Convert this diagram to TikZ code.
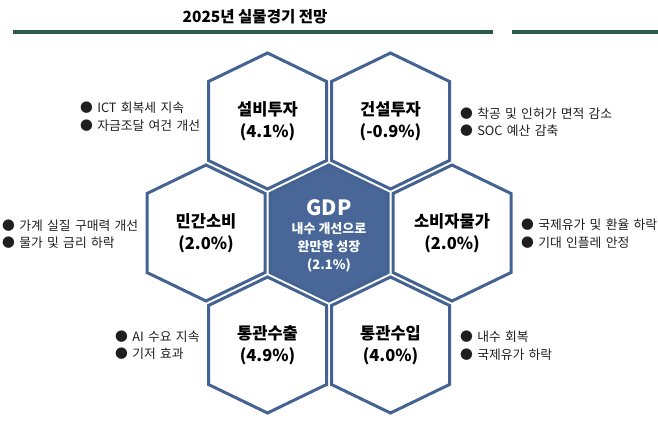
\documentclass[tikz,border=0pt]{standalone}
\usepackage{fontspec}
\setmainfont{Noto Sans CJK KR}
\newfontfamily\notefamily{Noto Sans CJK KR}[WordSpace=1.5]
\usetikzlibrary{positioning}

\definecolor{hexblue}{RGB}{68,99,147}
\definecolor{hexfill}{RGB}{72,103,152}
\definecolor{rulegreen}{RGB}{44,90,70}

\begin{document}
\begin{tikzpicture}[x=1pt, y=-1pt,
        hexcell/.style={draw=hexblue, line width=3pt, line join=miter, fill=white},
        hexcore/.style={hexcell, fill=hexfill},
        hexlabel/.style={font=\fontsize{16.5}{22}\selectfont\bfseries, align=center, inner sep=0pt},
        corehead/.style={font=\fontsize{21}{24}\selectfont\bfseries, text=white, inner sep=0pt},
        coretext/.style={font=\fontsize{13}{18}\selectfont\bfseries, text=white, align=center, inner sep=0pt},
        note/.style={font=\notefamily\fontsize{12.8}{17.5}\selectfont, text=black!88, align=left, anchor=west, inner sep=0pt},
        headline/.style={font=\fontsize{15.5}{18}\selectfont\bfseries, inner sep=0pt},
        rule/.style={draw=rulegreen, line width=3.5pt}
    ]
    \useasboundingbox (0,0) rectangle (658,442);

    % ROZMERY
    \def\hw{59}
    \def\hv{68}
    \def\hs{39.5}

    % NADPIS
    \node[headline] (title) at (255,17) {2025년 실물경기 전망};
    \coordinate (ruleA) at (13,32);
    \coordinate (ruleB) at (493,32);
    \coordinate (ruleC) at (512,32);
    \coordinate (ruleD) at (658,32);
    \draw[rule] (ruleA) -- (ruleB);
    \draw[rule] (ruleC) -- (ruleD);

    % SESTIUHELNIKY
    \foreach \name/\cx/\cy/\sty in {capex/267.5/121/hexcell, constr/390.5/121/hexcell,
                                    consum/206/233/hexcell, gdp/329/233/hexcore, prices/452/233/hexcell,
                                    exports/267.5/345/hexcell, imports/390.5/345/hexcell} {
        \coordinate (\name) at (\cx,\cy);
        \draw[\sty] ([shift={(0,-\hv)}]\name) -- ([shift={(\hw,-\hs)}]\name) -- ([shift={(\hw,\hs)}]\name)
            -- ([shift={(0,\hv)}]\name) -- ([shift={(-\hw,\hs)}]\name) -- ([shift={(-\hw,-\hs)}]\name) -- cycle;
    }

    % POPISKY
    \node[hexlabel] (capexlbl) at (capex) {설비투자\\(4.1\%)};
    \node[hexlabel] (constrlbl) at (constr) {건설투자\\(-0.9\%)};
    \node[hexlabel] (consumlbl) at (consum) {민간소비\\(2.0\%)};
    \node[hexlabel] (priceslbl) at (prices) {소비자물가\\(2.0\%)};
    \node[hexlabel] (exportslbl) at (exports) {통관수출\\(4.9\%)};
    \node[hexlabel] (importslbl) at (imports) {통관수입\\(4.0\%)};

    \node[corehead] (gdphead) at (329,208) {GDP};
    \node[coretext, below=6pt of gdphead] (gdptext) {내수 개선으로\\완만한 성장\\(2.1\%)};

    % POZNAMKY
    \node[note] (capexnote) at (80,116.5) {● ICT 회복세 지속\\● 자금조달 여건 개선};
    \node[note] (constrnote) at (460,122) {● 착공 및 인허가 면적 감소\\● SOC 예산 감축};
    \node[note] (consumnote) at (2,234) {● 가계 실질 구매력 개선\\● 물가 및 금리 하락};
    \node[note] (pricesnote) at (521,233.5) {● 국제유가 및 환율 하락\\● 기대 인플레 안정};
    \node[note] (exportsnote) at (115,345) {● AI 수요 지속\\● 기저 효과};
    \node[note] (importsnote) at (460,345.5) {● 내수 회복\\● 국제유가 하락};
\end{tikzpicture}
\end{document}
